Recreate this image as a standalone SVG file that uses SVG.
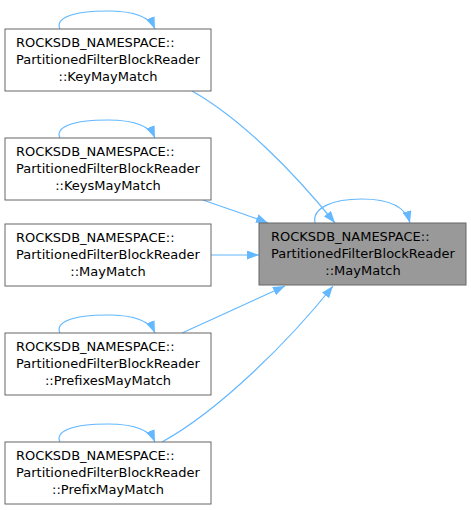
<svg xmlns="http://www.w3.org/2000/svg" width="471" height="510" viewBox="0 0 471 510">
<style>
.n rect{fill:#ffffff;stroke:#666666;stroke-width:1}
.n.h rect{fill:#999999}
text{font-family:"DejaVu Sans",sans-serif;font-size:13px;fill:#000000}
.c{text-anchor:middle}
.e path{fill:none;stroke:#63b8ff;stroke-width:1.2;marker-end:url(#a)}
</style>
<defs>
<marker id="a" viewBox="0 0 12 9" refX="12" refY="4.5" markerWidth="12" markerHeight="9" markerUnits="userSpaceOnUse" orient="auto">
<path d="M0,0 L12,4.5 L0,9 z" fill="#63b8ff"/>
</marker>
</defs>
<g class="e">
<path d="M60,29 C55,19 70,11 108,11 C135,11 150,17 155,29"/>
<path d="M60,138 C55,128 70,120 108,120 C135,120 150,126 155,138"/>
<path d="M60,333 C55,323 70,315 108,315 C135,315 150,321 155,333"/>
<path d="M60,442 C55,432 70,424 108,424 C135,424 150,430 155,442"/>
<path d="M315,223 C312,208 332,199 362,199 C392,199 406,208 410,223"/>
<path d="M192,91 C240,118 292,170 335,223"/>
<path d="M203,200 C225,208 248,215 268,223"/>
<path d="M211,255 L259,255"/>
<path d="M182,333 C215,318 255,300 285,286"/>
<path d="M162,442 C220,410 290,340 333,286"/>
</g>
<g id="node1" class="n"><rect x="5" y="29" width="206" height="62"/><text x="16" y="47">ROCKSDB_NAMESPACE::</text><text x="16" y="64">PartitionedFilterBlockReader</text><text class="c" x="108" y="81">::KeyMayMatch</text></g>
<g id="node2" class="n"><rect x="5" y="138" width="206" height="62"/><text x="16" y="156">ROCKSDB_NAMESPACE::</text><text x="16" y="173">PartitionedFilterBlockReader</text><text class="c" x="108" y="190">::KeysMayMatch</text></g>
<g id="node3" class="n"><rect x="5" y="224" width="206" height="62"/><text x="16" y="242">ROCKSDB_NAMESPACE::</text><text x="16" y="259">PartitionedFilterBlockReader</text><text class="c" x="108" y="276">::MayMatch</text></g>
<g id="node4" class="n"><rect x="5" y="333" width="206" height="62"/><text x="16" y="351">ROCKSDB_NAMESPACE::</text><text x="16" y="368">PartitionedFilterBlockReader</text><text class="c" x="108" y="385">::PrefixesMayMatch</text></g>
<g id="node5" class="n"><rect x="5" y="442" width="206" height="62"/><text x="16" y="460">ROCKSDB_NAMESPACE::</text><text x="16" y="477">PartitionedFilterBlockReader</text><text class="c" x="108" y="494">::PrefixMayMatch</text></g>
<g id="node0" class="n h"><rect x="259" y="223" width="207" height="62"/><text x="271" y="241">ROCKSDB_NAMESPACE::</text><text x="271" y="258">PartitionedFilterBlockReader</text><text class="c" x="363" y="275">::MayMatch</text></g>
</svg>
